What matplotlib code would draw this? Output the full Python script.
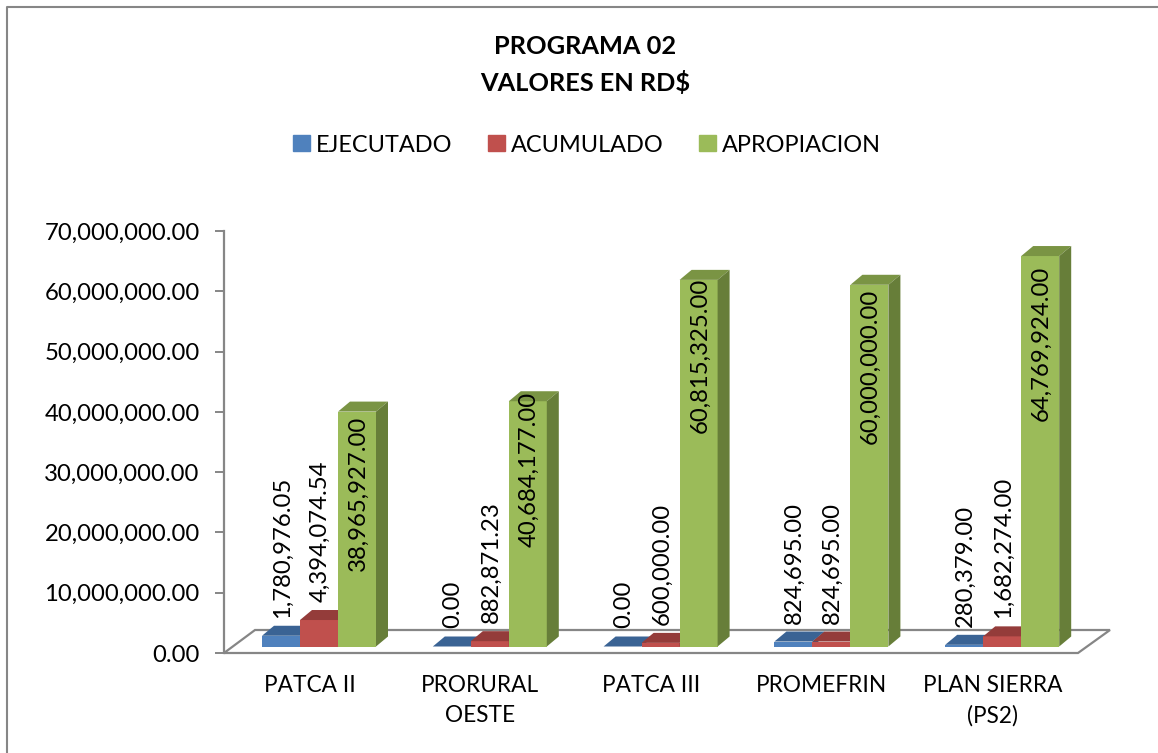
import matplotlib
matplotlib.use('Agg')
import matplotlib.pyplot as plt
from matplotlib.patches import Patch, Polygon
from matplotlib.ticker import FuncFormatter

plt.rcParams['font.family'] = ['Lato', 'DejaVu Sans']

categories = ['PATCA II', 'PRORURAL\nOESTE', 'PATCA III', 'PROMEFRIN', 'PLAN SIERRA\n(PS2)']
ejecutado = [1780976.05, 0.00, 0.00, 824695.00, 280379.00]
acumulado = [4394074.54, 882871.23, 600000.00, 824695.00, 1682274.00]
apropiacion = [38965927.00, 40684177.00, 60815325.00, 60000000.00, 64769924.00]
yticks = [0, 10000000, 20000000, 30000000, 40000000, 50000000, 60000000, 70000000]

GRAY = '#868686'
W, H = 1158, 753
L, R, T, B = 224, 1078, 231, 653

# the green labels were placed by hand in the original chart
green_label_offset = [-4, 9, 2, -4, -10]

fig = plt.figure(figsize=(W / 100, H / 100), dpi=100)
ax = fig.add_axes([L / W, 1 - B / H, (R - L) / W, (B - T) / H])
ax.set_xlim(-0.5, 4.5)
ax.set_ylim(0, 70000000)
ax.patch.set_alpha(0)

# pixels to data units
px = 5 / (R - L)
py = 70000000 / (B - T)

width = 38 * px
shift = 9.6 * px
base = 6.5 * py
dx, dy = 12 * px, 10 * py

# floor of the 3d chart
ax.add_patch(Polygon([(-0.5, 0), (4.5, 0), (4.5 + 32 * px, 23 * py), (-0.5 + 31 * px, 23 * py)],
                     closed=True, fc='white', ec=GRAY, lw=1.6, clip_on=False, zorder=1))

series = [
    (ejecutado, '#4F81BD', '#3A6394', '#335A87', 'EJECUTADO'),
    (acumulado, '#C0504D', '#943C3A', '#853735', 'ACUMULADO'),
    (apropiacion, '#9BBB59', '#7A9444', '#677E39', 'APROPIACION'),
]

for s, (vals, front, top, side, name) in enumerate(series):
    for i, v in enumerate(vals):
        x = i + shift + (s - 1) * width
        x0, x1 = x - width / 2, x + width / 2
        y1 = v + base
        ax.bar(x, v, width, bottom=base, color=front, zorder=3 + s, clip_on=False)
        ax.add_patch(Polygon([(x0, y1), (x1, y1), (x1 + dx, y1 + dy), (x0 + dx, y1 + dy)],
                             closed=True, fc=top, ec='none', zorder=3 + s, clip_on=False))
        ax.add_patch(Polygon([(x1, base), (x1 + dx, base + dy), (x1 + dx, y1 + dy), (x1, y1)],
                             closed=True, fc=side, ec='none', zorder=3 + s, clip_on=False))
        label = format(v, ',.2f')
        if s == 2:
            ax.annotate(label, (x, y1), xytext=(1, green_label_offset[i]), textcoords='offset pixels', rotation=90,
                        ha='center', va='top', fontsize=17.2, color='black', zorder=10)
        else:
            ax.annotate(label, (x, y1), xytext=(1, 18), textcoords='offset pixels', rotation=90,
                        ha='center', va='bottom', fontsize=17.2, color='black', zorder=10)

for name in ['top', 'right', 'bottom']:
    ax.spines[name].set_visible(False)
ax.spines['left'].set_color(GRAY)
ax.spines['left'].set_linewidth(1.6)

ax.set_yticks(yticks)
ax.yaxis.set_major_formatter(FuncFormatter(lambda v, p: format(v, ',.2f')))
ax.tick_params(axis='y', length=6.5, width=1.4, color=GRAY, pad=11, labelsize=17.2, labelcolor='black')
ax.set_xticks(range(5))
ax.set_xticklabels(categories, linespacing=1.5)
ax.tick_params(axis='x', length=0, pad=16, labelsize=16.3, labelcolor='black')

fig.text(585 / W, 1 - 65 / H, 'PROGRAMA 02\nVALORES EN RD$', ha='center', va='center',
         fontsize=18.3, fontweight='bold', linespacing=1.65)

handles = [Patch(color=c[1], label=c[4]) for c in series]
fig.legend(handles=handles, loc='center', bbox_to_anchor=(587 / W, 1 - 145 / H), ncol=3, frameon=False,
           fontsize=16.9, handlelength=0.72, handleheight=0.65, handletextpad=0.26, columnspacing=1.5)

# outer chart border, cut off by the image on the right and bottom
fig.add_artist(plt.Line2D([7 / W, 7 / W, 1], [0, 1 - 7 / H, 1 - 7 / H], color=GRAY, lw=1.5))

fig.savefig('out.png', dpi=100)
